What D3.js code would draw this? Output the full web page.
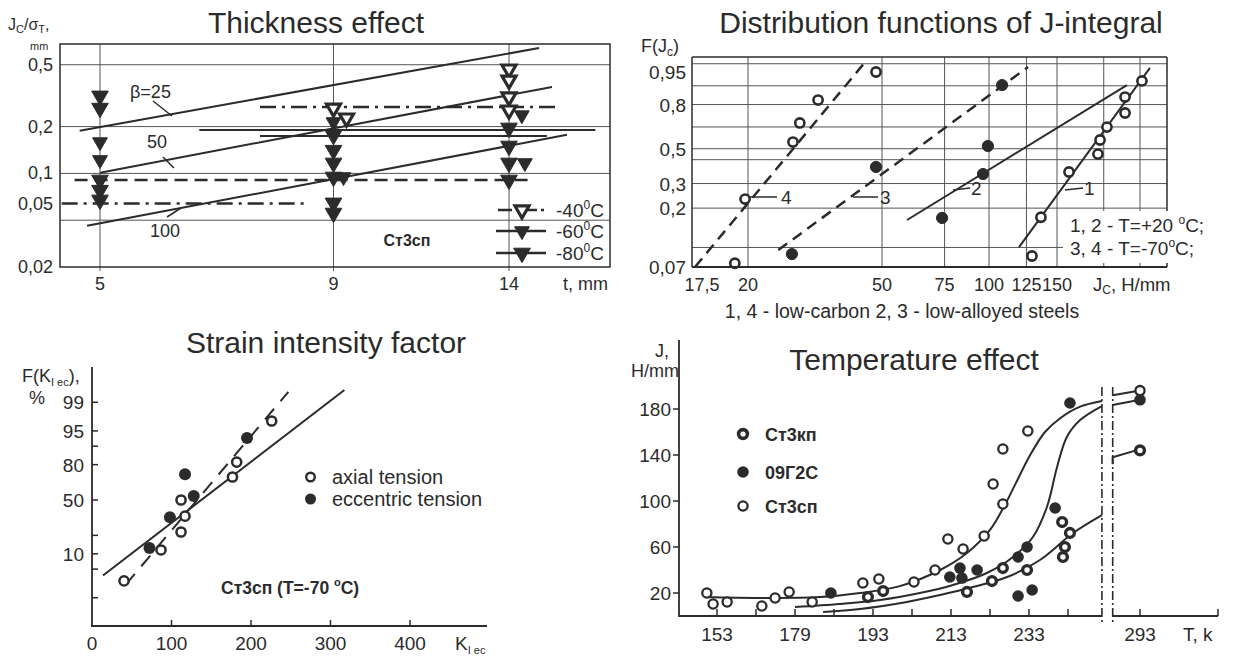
<!DOCTYPE html>
<html><head><meta charset="utf-8">
<script src="https://cdn.jsdelivr.net/npm/d3@7/dist/d3.min.js"></script>
<style>
body{margin:0;background:#fff;}
svg{display:block;font-family:"Liberation Sans",Arial,sans-serif;}
</style></head><body>
<svg id="c" width="1234" height="661"></svg>
<script>
// ================= DATA =================
// Panel 1: Thickness effect (t, Jc/sigma)
const p1Thickness = [5, 9, 14];
const p1YTicks = [0.5, 0.2, 0.1, 0.05, 0.02];
const p1YTickLabels = ["0,5", "0,2", "0,1", "0,05", "0,02"];
const p1GridY = [0.5, 0.2, 0.1, 0.05];
const p1BetaLabels = ["β=25", "50", "100"];
const p1Beta25 = [[4.75, 0.188], [15.1, 0.64]];
const p1Beta50 = [[5, 0.101], [15.6, 0.36]];
const p1Beta100 = [[4.84, 0.046], [16.2, 0.177]];
const p1LevelDashDotLow = [[4.54, 0.064], [8.4, 0.064]];
const p1LevelDashed = [[4.69, 0.0906], [14.86, 0.0906]];
const p1LevelDashDotHigh = [[7.48, 0.267], [15.9, 0.267]];
const p1LevelSolidA = [[6.42, 0.19], [17.4, 0.19]];
const p1LevelSolidB = [[7.48, 0.174], [15.4, 0.174]];
const p1Tri40 = [[9, 0.263], [9.3, 0.227], [14, 0.469], [14, 0.398], [14, 0.31], [14, 0.2555]];
const p1Tri60 = [[5, 0.159], [5, 0.122], [9, 0.214], [9.23, 0.0948], [14.46, 0.237], [14.57, 0.1167]];
const p1Tri80 = [[5, 0.315], [5, 0.263], [5, 0.0907], [5, 0.078], [5, 0.0675],
  [9, 0.176], [9, 0.141], [9, 0.1167], [9, 0.0948], [9, 0.0646], [9, 0.0556],
  [14, 0.196], [14, 0.150], [14, 0.1167], [14, 0.0907]];
const p1LegendTemps = ["-40", "-60", "-80"];

// Panel 2: Distribution functions of J-integral (Jc, F)
const p2XTicks = [17.5, 20, 50, 75, 100, 125, 150];
const p2XTickLabels = ["17,5", "20", "50", "75", "100", "125", "150"];
const p2GridX = [20, 50, 75, 100, 125, 150, 200, 250];
const p2YTicks = [0.95, 0.8, 0.5, 0.3, 0.2, 0.07];
const p2YTickLabels = ["0,95", "0,8", "0,5", "0,3", "0,2", "0,07"];
const p2GridY = [0.97, 0.9, 0.8, 0.65, 0.5, 0.43, 0.3, 0.2, 0.1];
const p2Series1 = [[253, 0.92], [228, 0.844], [228, 0.746], [204, 0.649], [195.5, 0.559], [193, 0.465], [161.5, 0.359], [136.3, 0.171], [129.2, 0.0856]];
const p2Series2 = [[99.3, 0.518], [96.2, 0.348], [73.8, 0.169]];
const p2Series3 = [[27.0, 0.0887], [48.0, 0.387], [108.1, 0.903]];
const p2Series4 = [[48.0, 0.95], [32.3, 0.827], [28.5, 0.678], [27.2, 0.545], [19.83, 0.233], [19.25, 0.075]];
const p2Line1 = [[119.6, 0.1007], [265.8, 0.961]];
const p2Line2 = [[58.8, 0.163], [230.7, 0.903]];
const p2Line3 = [[24.6, 0.0954], [126.2, 0.963]];
const p2Line4 = [[17.15, 0.07], [45.1, 0.977]];

// Panel 3: Strain intensity factor (K, F %)
const p3XTicks = [0, 100, 200, 300, 400];
const p3YTicks = [99, 95, 90, 80, 50, 20, 10, 5, 1];
const p3YLabelled = [99, 95, 80, 50, 10];
const p3Axial = [[40.3, 2.7], [86.8, 11.7], [112, 22.3], [117, 35], [112, 50], [176.7, 70.8], [182, 81.7], [226, 97]];
const p3Eccentric = [[72.3, 12.7], [98, 34], [128, 53.8], [117, 73], [195, 93]];
const p3SolidFit = [[13.8, 3.6], [317.5, 99.56]];
const p3DashedFit = [[42.5, 2.2], [247, 99.5]];

// Panel 4: Temperature effect (T, J)
const p4XTicksLeft = [153, 163, 173, 183, 193, 203, 213, 223, 233, 243];
const p4XTickLabelled = [153, 173, 193, 213, 233];
const p4XTickLabelText = ["153", "179", "193", "213", "233"];
const p4XTicksRight = [293, 313];
const p4YTicks = [20, 60, 100, 140, 180];
const p4CurveSp = [[149.9, 16.5], [164, 15.7], [179.4, 16.5], [189.7, 20], [199.9, 26], [210.2, 40], [217.1, 54.8], [223, 74.8], [226.8, 96.5], [229.4, 114], [233.3, 140], [237.1, 160], [241, 172], [246.1, 182], [251.7, 187]];
const p4CurveG2S = [[173, 7.8], [184.5, 10.4], [194.8, 13.9], [205, 20], [213.5, 27], [222.2, 37.4], [228.9, 51.3], [234, 68.7], [237.6, 94.8], [240.2, 129.6], [242.7, 155.7], [246.1, 170.4], [251.7, 182.6]];
const p4CurveKp = [[180.2, 3.5], [189.7, 6.1], [201.7, 12.2], [210.2, 18.3], [218.6, 25.2], [227.4, 33.9], [235.8, 48.7], [244.3, 72.2], [251.7, 87.8]];
const p4RightSp = [[286, 192], [293, 196]];
const p4RightG2S = [[286, 183.5], [293, 188]];
const p4RightKp = [[286, 132], [286, 138], [292, 144]];
const p4PointsSp = [[150.4, 20], [152, 10.4], [155.6, 12.2], [164.5, 8.7], [167.9, 15.7], [171.5, 20.9], [177.4, 12.2], [190.4, 28.7], [194.5, 32.2], [203.5, 29.6], [208.9, 40], [212.2, 67], [216.1, 58.3], [221.5, 69.6], [223.8, 114.8], [226.3, 97.4], [226.3, 145.2], [232.7, 160.9], [293, 196]];
const p4PointsKp = [[191.7, 16.5], [195.6, 21.7], [217.1, 20.9], [223.5, 30.4], [226.3, 41.7], [232.5, 40], [241.5, 81.7], [243.5, 72.2], [242.2, 60], [241.7, 51.3], [293, 144]];
const p4PointsG2S = [[182.2, 20], [212.7, 33.9], [215.3, 41.7], [215.8, 33], [219.7, 40], [230.2, 51.3], [232.5, 60], [230.2, 17.4], [233.8, 22.6], [239.7, 93.9], [243.5, 185.2], [293, 188]];
const p4LegendNames = ["Ст3кп", "09Г2С", "Ст3сп"];

// ================= HELPERS =================
const INK = "#2b2b2b";
const svg = d3.select("#c");
svg.append("rect").attr("width", 1234).attr("height", 661).attr("fill", "#fff");

function probit(p) {
  const a = [-3.969683028665376e+01, 2.209460984245205e+02, -2.759285104469687e+02, 1.383577518672690e+02, -3.066479806614716e+01, 2.506628277459239e+00];
  const b = [-5.447609879822406e+01, 1.615858368580409e+02, -1.556989798598866e+02, 6.680131188771972e+01, -1.328068155288572e+01];
  const c = [-7.784894002430293e-03, -3.223964580411365e-01, -2.400758277161838e+00, -2.549732539343734e+00, 4.374664141464968e+00, 2.938163982698783e+00];
  const d = [7.784695709041462e-03, 3.224671290700398e-01, 2.445134137142996e+00, 3.754408661907416e+00];
  const pl = 0.02425, ph = 1 - pl; let q, r;
  if (p < pl) { q = Math.sqrt(-2 * Math.log(p)); return (((((c[0]*q+c[1])*q+c[2])*q+c[3])*q+c[4])*q+c[5]) / ((((d[0]*q+d[1])*q+d[2])*q+d[3])*q+1); }
  if (p <= ph) { q = p - 0.5; r = q*q; return (((((a[0]*r+a[1])*r+a[2])*r+a[3])*r+a[4])*r+a[5])*q / (((((b[0]*r+b[1])*r+b[2])*r+b[3])*r+b[4])*r+1); }
  q = Math.sqrt(-2 * Math.log(1 - p)); return -(((((c[0]*q+c[1])*q+c[2])*q+c[3])*q+c[4])*q+c[5]) / ((((d[0]*q+d[1])*q+d[2])*q+d[3])*q+1);
}
const weib = F => Math.log(-Math.log(1 - F));

function text(g, x, y, str, size, opts = {}) {
  const t = g.append("text").attr("x", x).attr("y", y).attr("font-size", size)
    .attr("fill", INK).attr("text-anchor", opts.anchor || "start").text(str);
  if (opts.bold) t.attr("font-weight", "bold");
  return t;
}
function line(g, x1, y1, x2, y2, w, dash) {
  const l = g.append("line").attr("x1", x1).attr("y1", y1).attr("x2", x2).attr("y2", y2)
    .attr("stroke", INK).attr("stroke-width", w || 1);
  if (dash) l.attr("stroke-dasharray", dash);
  return l;
}
function path(g, pts, sx, sy, w, dash, curve) {
  const gen = d3.line().x(d => sx(d[0])).y(d => sy(d[1]));
  if (curve) gen.curve(curve);
  const p = g.append("path").attr("d", gen(pts)).attr("fill", "none")
    .attr("stroke", INK).attr("stroke-width", w).attr("stroke-linejoin", "round");
  if (dash) p.attr("stroke-dasharray", dash);
  return p;
}

// ================= PANEL 1 =================
(function () {
  const g = svg.append("g");
  const x = d3.scaleLog().domain([5, 14]).range([100, 509]);
  const y = d3.scaleLog().domain([0.025, 0.7]).range([267, 42]).clamp(true);
  const L = 60, R = 610, T = 44, B = 267;

  text(g, 316, 33, "Thickness effect", 30, { anchor: "middle" });
  const yl = text(g, 8, 30, "J", 16);
  yl.append("tspan").attr("font-size", 11).attr("dy", 3).text("C");
  yl.append("tspan").attr("dy", -3).text("/σ");
  yl.append("tspan").attr("font-size", 11).attr("dy", 3).text("T");
  yl.append("tspan").attr("dy", -3).text(",");
  text(g, 30, 50, "mm", 11);

  p1GridY.forEach(v => line(g, L, y(v), R, y(v), 1).attr("stroke", "#555"));
  p1Thickness.forEach(t => line(g, x(t), T, x(t), B + 4, 1).attr("stroke", "#555"));
  g.append("rect").attr("x", L).attr("y", T).attr("width", R - L).attr("height", B - T)
    .attr("fill", "none").attr("stroke", INK).attr("stroke-width", 1.5);

  p1YTicks.forEach((v, i) => text(g, 53, y(v) + 6 - (v === 0.05 ? 16 : 0), p1YTickLabels[i], 18, { anchor: "end" }));
  p1Thickness.forEach(t => text(g, x(t), 290, String(t), 18, { anchor: "middle" }));
  text(g, 563, 290, "t, mm", 18);

  path(g, p1LevelDashDotLow, x, y, 2.5, "16,6,3,6");
  path(g, p1LevelDashed, x, y, 2.5, "13,7");
  path(g, p1LevelDashDotHigh, x, y, 2.5, "16,6,3,6");
  path(g, p1LevelSolidA, x, y, 2);
  path(g, p1LevelSolidB, x, y, 2);

  [p1Beta25, p1Beta50, p1Beta100].forEach(l => path(g, l, x, y, 2));
  text(g, 130, 98, p1BetaLabels[0], 18);
  line(g, 153, 101, 172, 116, 1.5);
  text(g, 147, 148, p1BetaLabels[1], 18);
  line(g, 163, 157, 174, 168, 1.5);
  text(g, 150, 237, p1BetaLabels[2], 18);
  line(g, 167, 217, 181, 208, 1.5);

  const tri = d3.symbol().type(d3.symbolTriangle);
  const drawTri = (data, size, open) => {
    g.selectAll(null).data(data).enter().append("path")
      .attr("d", tri.size(size)())
      .attr("transform", d => `translate(${x(d[0])},${y(d[1])}) rotate(180)`)
      .attr("fill", open ? "#fff" : INK).attr("stroke", INK).attr("stroke-width", open ? 3.2 : 1);
  };
  drawTri(p1Tri80, 120, false);
  drawTri(p1Tri60, 95, false);
  drawTri(p1Tri40, 85, true);

  text(g, 407, 246, "Ст3сп", 16, { bold: true, anchor: "middle" });

  const ly = [210, 231, 253];
  line(g, 498, ly[0], 548, ly[0], 2.5, "14,4,3,4");
  line(g, 496, ly[1], 546, ly[1], 2.5);
  line(g, 496, ly[2], 546, ly[2], 2.5);
  [[85, true], [95, false], [120, false]].forEach((s, i) => {
    g.append("path").attr("d", tri.size(s[0])())
      .attr("transform", `translate(522,${ly[i]}) rotate(180)`)
      .attr("fill", s[1] ? "#fff" : INK).attr("stroke", INK).attr("stroke-width", s[1] ? 3.2 : 1);
    const t = text(g, 556, ly[i] + 7, p1LegendTemps[i], 19);
    t.append("tspan").attr("font-size", 12).attr("dy", -8).text("0");
    t.append("tspan").attr("dy", 8).text("C");
  });
})();

// ================= PANEL 2 =================
(function () {
  const g = svg.append("g");
  const x = d3.scaleLog().domain([17.5, 20, 50, 100, 150, 250]).range([702, 748, 882, 989, 1057, 1140]);
  const yw = d3.scaleLinear().domain([weib(0.07), weib(0.95)]).range([267, 72]);
  const y = F => yw(weib(F));
  const L = 692, R = 1167, T = 57, B = 267;

  text(g, 941, 33, "Distribution functions of J-integral", 30, { anchor: "middle" });
  const yl = text(g, 641, 52, "F(J", 18);
  yl.append("tspan").attr("font-size", 12).attr("dy", 4).text("c");
  yl.append("tspan").attr("dy", -4).text(")");

  p2GridY.forEach(v => line(g, L, y(v), R, y(v), 1).attr("stroke", "#555"));
  p2GridX.forEach(v => line(g, x(v), T, x(v), B, 1).attr("stroke", "#555"));
  line(g, L, T, R, T, 1.5);
  line(g, L, T, L, B, 1.5);
  line(g, R, T, R, B, 1.5);

  p2YTicks.forEach((v, i) => text(g, 686, y(v) + 7, p2YTickLabels[i], 19, { anchor: "end" }));
  p2XTicks.forEach((v, i) => text(g, x(v), 291, p2XTickLabels[i], 18, { anchor: "middle" }));
  const xl = text(g, 1093, 291, "J", 18.5);
  xl.append("tspan").attr("font-size", 12).attr("dy", 3).text("C");
  xl.append("tspan").attr("dy", -3).text(", H/mm");

  path(g, p2Line4, x, y, 2.5, "11,7");
  path(g, p2Line3, x, y, 2.5, "11,7");
  path(g, p2Line2, x, y, 2);
  path(g, p2Line1, x, y, 2);

  const dot = (data, open) => g.selectAll(null).data(data).enter().append("circle")
    .attr("cx", d => x(d[0])).attr("cy", d => y(d[1])).attr("r", open ? 4.6 : 5.6)
    .attr("fill", open ? "#fff" : INK).attr("stroke", INK).attr("stroke-width", open ? 2.6 : 1);
  dot(p2Series1, true); dot(p2Series4, true);
  dot(p2Series2, false); dot(p2Series3, false);

  line(g, 750, 197, 777, 197, 1.5); text(g, 781, 204, "4", 19);
  line(g, 853, 197, 878, 197, 1.5); text(g, 880, 204, "3", 19);
  line(g, 953, 190, 970, 188, 1.5); text(g, 971, 195, "2", 19);
  line(g, 1065, 190, 1083, 188, 1.5); text(g, 1084, 195, "1", 19);

  g.append("rect").attr("x", 1063).attr("y", 211).attr("width", 160).attr("height", 52).attr("fill", "#fff");
  const a1 = text(g, 1070, 232, "1, 2 - T=+20 ", 19);
  a1.append("tspan").attr("font-size", 12).attr("dy", -8).text("o");
  a1.append("tspan").attr("dy", 8).text("C;");
  const a2 = text(g, 1070, 255, "3, 4 - T=-70", 19);
  a2.append("tspan").attr("font-size", 12).attr("dy", -8).text("o");
  a2.append("tspan").attr("dy", 8).text("C;");
  line(g, L, B, R, B, 1.8);

  text(g, 902, 318, "1, 4 - low-carbon  2, 3 - low-alloyed steels", 19.5, { anchor: "middle" });
})();

// ================= PANEL 3 =================
(function () {
  const g = svg.append("g");
  const x = d3.scaleLinear().domain([0, 400]).range([92, 410]);
  const yz = d3.scaleLinear().domain([-3, 3]).range([626, 374]);
  const y = p => yz(probit(p / 100));

  text(g, 326, 353, "Strain intensity factor", 30, { anchor: "middle" });
  const yl = text(g, 22, 382, "F(K", 18);
  yl.append("tspan").attr("font-size", 11).attr("dy", 4).text("I ec");
  yl.append("tspan").attr("dy", -4).text("),");
  text(g, 29, 404, "%", 18);

  line(g, 92, 367, 92, 627, 1.8);
  line(g, 91, 626, 487, 626, 1.8);
  p3YTicks.forEach(v => line(g, 92, y(v), 98, y(v), 1.5));
  p3YLabelled.forEach(v => text(g, 84, y(v) + 7, String(v), 19, { anchor: "end" }));
  p3XTicks.forEach(v => { if (v > 0) line(g, x(v), 620, x(v), 626, 1.5); });
  p3XTicks.forEach(v => text(g, x(v), 650, String(v), 19, { anchor: "middle" }));
  const xl = text(g, 455, 650, "K", 19);
  xl.append("tspan").attr("font-size", 11).attr("dy", 4).text("I ec");

  path(g, p3SolidFit, x, y, 2);
  path(g, p3DashedFit, x, y, 2, "14,10");

  g.selectAll(null).data(p3Axial).enter().append("circle")
    .attr("cx", d => x(d[0])).attr("cy", d => y(d[1])).attr("r", 4.6)
    .attr("fill", "#fff").attr("stroke", INK).attr("stroke-width", 2.5);
  g.selectAll(null).data(p3Eccentric).enter().append("circle")
    .attr("cx", d => x(d[0])).attr("cy", d => y(d[1])).attr("r", 6)
    .attr("fill", INK);

  g.append("circle").attr("cx", 310.5).attr("cy", 477).attr("r", 4.3).attr("fill", "#fff").attr("stroke", INK).attr("stroke-width", 2.4);
  text(g, 332, 484, "axial tension", 20);
  g.append("circle").attr("cx", 310.5).attr("cy", 499).attr("r", 5.5).attr("fill", INK);
  text(g, 332, 506, "eccentric tension", 20);

  const lab = text(g, 221, 594, "Ст3сп (T=-70 ", 17.5, { bold: true });
  lab.append("tspan").attr("font-size", 11).attr("dy", -8).text("o");
  lab.append("tspan").attr("dy", 8).text("C)");
})();

// ================= PANEL 4 =================
(function () {
  const g = svg.append("g");
  const xL = d3.scaleLinear().domain([153, 253]).range([717, 1107]);
  const xR = d3.scaleLinear().domain([293, 313]).range([1140, 1218]);
  const xT = t => (t < 270 ? xL(t) : xR(t));
  const y = d3.scaleLinear().domain([0, 180]).range([616, 409]);

  text(g, 914, 370, "Temperature effect", 30, { anchor: "middle" });
  text(g, 669, 357, "J,", 18, { anchor: "end" });
  text(g, 679, 377, "H/mm", 18, { anchor: "end" });

  line(g, 679, 340, 679, 617, 1.8);
  line(g, 679, 616, xL(251.7), 616, 1.8);
  line(g, xR(286), 616, 1218, 616, 1.8);
  p4YTicks.forEach(v => { line(g, 673, y(v), 679, y(v), 1.5); text(g, 671, y(v) + 7, String(v), 19, { anchor: "end" }); });
  p4XTicksLeft.forEach(v => line(g, xL(v), 609, xL(v), 616, 1.5));
  p4XTicksRight.forEach(v => line(g, xR(v), 609, xR(v), 616, 1.5));
  p4XTickLabelled.forEach((v, i) => text(g, xL(v), 641, p4XTickLabelText[i], 19, { anchor: "middle" }));
  text(g, xR(293), 641, "293", 19, { anchor: "middle" });
  text(g, 1183, 641, "T, k", 19);

  line(g, xL(251.7), 387, xL(251.7), 623, 1.6, "9,3,2,3");
  line(g, xR(286), 387, xR(286), 623, 1.6, "9,3,2,3");

  const cur = d3.curveCatmullRom.alpha(0.5);
  [p4CurveSp, p4CurveG2S, p4CurveKp].forEach(c => path(g, c, xT, y, 2, null, cur));
  [p4RightSp, p4RightG2S, p4RightKp].forEach(c => path(g, c, xT, y, 2));

  g.selectAll(null).data(p4PointsSp).enter().append("circle")
    .attr("cx", d => xT(d[0])).attr("cy", d => y(d[1])).attr("r", 4.6)
    .attr("fill", "#fff").attr("stroke", INK).attr("stroke-width", 2.3);
  g.selectAll(null).data(p4PointsKp).enter().append("circle")
    .attr("cx", d => xT(d[0])).attr("cy", d => y(d[1])).attr("r", 4.4)
    .attr("fill", "#fff").attr("stroke", INK).attr("stroke-width", 3.4);
  g.selectAll(null).data(p4PointsG2S).enter().append("circle")
    .attr("cx", d => xT(d[0])).attr("cy", d => y(d[1])).attr("r", 5.8)
    .attr("fill", INK);

  const ly = [434, 472, 506];
  g.append("circle").attr("cx", 743).attr("cy", ly[0]).attr("r", 4.4).attr("fill", "#fff").attr("stroke", INK).attr("stroke-width", 3.6);
  g.append("circle").attr("cx", 743).attr("cy", ly[1]).attr("r", 5.8).attr("fill", INK);
  g.append("circle").attr("cx", 743).attr("cy", ly[2]).attr("r", 4.6).attr("fill", "#fff").attr("stroke", INK).attr("stroke-width", 2.3);
  p4LegendNames.forEach((n, i) => text(g, 765, ly[i] + 7, n, 18, { bold: true }));
})();
</script>
</body></html>
